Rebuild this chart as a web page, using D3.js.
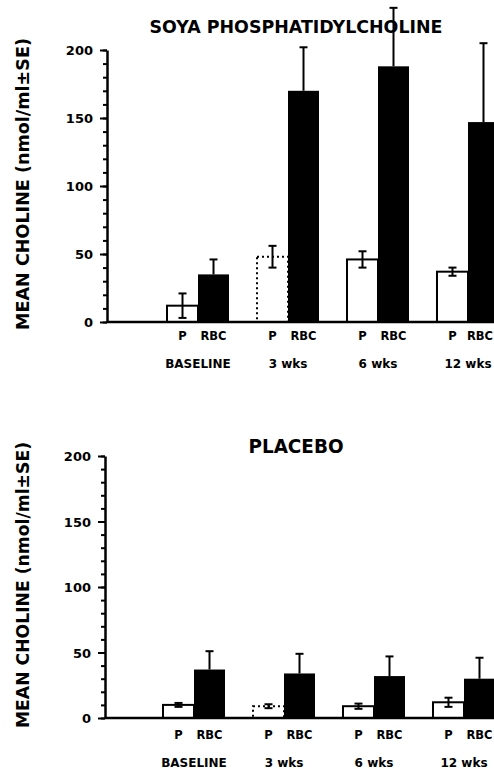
<!DOCTYPE html>
<html>
<head>
<meta charset="utf-8">
<script src="https://cdn.jsdelivr.net/npm/d3@7"></script>
<style>
body { margin: 0; background: #fff; }
text { font-family: "DejaVu Sans", sans-serif; font-weight: bold; fill: #000; }
</style>
</head>
<body>
<svg id="svg"></svg>
<script>
var width = 494, height = 769;

var groups = ["BASELINE", "3 wks", "6 wks", "12 wks"];
var kinds = ["P", "RBC"];
var yTicks = [0, 50, 100, 150, 200];
var dottedGroup = "3 wks";

var soyaP = [12, 48, 46, 37];
var soyaPErr = [9, 8, 6, 3];
var soyaRBC = [35, 170, 188, 147];
var soyaRBCErr = [11, 32, 43, 58];

var placeboP = [10, 9, 9, 12];
var placeboPErr = [1.5, 1.5, 2, 3.5];
var placeboRBC = [37, 34, 32, 30];
var placeboRBCErr = [14, 15, 15, 16];

var svg = d3.select("#svg")
	.attr("width", width)
	.attr("height", height);

plot({ axisX: 107, y0: 322, yTop: 50, bandStart: 167, titleY: 33, titleSize: 18, titleLen: 293,
		catY: 340, groupY: 368, labelMid: 184, labelLen: 292 },
	"SOYA PHOSPHATIDYLCHOLINE", soyaP, soyaPErr, soyaRBC, soyaRBCErr);
plot({ axisX: 105, y0: 718, yTop: 456, bandStart: 163, titleY: 453, titleSize: 19, titleLen: 95,
		catY: 739, groupY: 767, labelMid: 585, labelLen: 286 },
	"PLACEBO", placeboP, placeboPErr, placeboRBC, placeboRBCErr);

function plot(c, title, pVals, pErr, rVals, rErr)
{
	var g = svg.append("g");
	var y = d3.scaleLinear()
		.domain([0, 200])
		.range([c.y0, c.yTop]);
	var x = d3.scaleBand()
		.domain(groups)
		.range([c.bandStart, c.bandStart + 332])
		.paddingInner(0.311)
		.paddingOuter(0);
	var xi = d3.scaleBand()
		.domain(kinds)
		.range([0, x.bandwidth()]);
	var bw = xi.bandwidth();

	// P bars (open)
	g.selectAll(".pbar")
		.data(groups)
		.enter()
		.append("rect")
		.attr("x", function(d) { return x(d) + xi("P"); })
		.attr("y", function(d, i) { return y(pVals[i]); })
		.attr("width", bw)
		.attr("height", function(d, i) { return c.y0 - y(pVals[i]); })
		.style("fill", "#fff")
		.style("stroke", "#000")
		.style("stroke-width", 2)
		.style("stroke-dasharray", function(d) { return d == dottedGroup ? "2,3" : null; });

	// P error bars (both ways)
	var pe = g.selectAll(".perr")
		.data(groups)
		.enter()
		.append("g");
	pe.append("line")
		.attr("x1", function(d) { return x(d) + xi("P") + bw / 2; })
		.attr("x2", function(d) { return x(d) + xi("P") + bw / 2; })
		.attr("y1", function(d, i) { return y(pVals[i] - pErr[i]); })
		.attr("y2", function(d, i) { return y(pVals[i] + pErr[i]); });
	[1, -1].forEach(function(s) {
		pe.append("line")
			.attr("x1", function(d) { return x(d) + xi("P") + bw / 2 - 4; })
			.attr("x2", function(d) { return x(d) + xi("P") + bw / 2 + 4; })
			.attr("y1", function(d, i) { return y(pVals[i] + s * pErr[i]); })
			.attr("y2", function(d, i) { return y(pVals[i] + s * pErr[i]); });
	});
	pe.selectAll("line").style("stroke", "#000").style("stroke-width", 2);

	// RBC bars (solid)
	g.selectAll(".rbar")
		.data(groups)
		.enter()
		.append("rect")
		.attr("x", function(d) { return x(d) + xi("RBC"); })
		.attr("y", function(d, i) { return y(rVals[i]); })
		.attr("width", bw)
		.attr("height", function(d, i) { return c.y0 - y(rVals[i]); })
		.style("fill", "#000");

	// RBC error bars (upward)
	var re = g.selectAll(".rerr")
		.data(groups)
		.enter()
		.append("g");
	re.append("line")
		.attr("x1", function(d) { return x(d) + xi("RBC") + bw / 2; })
		.attr("x2", function(d) { return x(d) + xi("RBC") + bw / 2; })
		.attr("y1", function(d, i) { return y(rVals[i]); })
		.attr("y2", function(d, i) { return y(rVals[i] + rErr[i]); });
	re.append("line")
		.attr("x1", function(d) { return x(d) + xi("RBC") + bw / 2 - 4; })
		.attr("x2", function(d) { return x(d) + xi("RBC") + bw / 2 + 4; })
		.attr("y1", function(d, i) { return y(rVals[i] + rErr[i]); })
		.attr("y2", function(d, i) { return y(rVals[i] + rErr[i]); });
	re.selectAll("line").style("stroke", "#000").style("stroke-width", 2);

	// baseline
	g.append("line")
		.attr("x1", c.axisX)
		.attr("x2", width)
		.attr("y1", y(0))
		.attr("y2", y(0))
		.style("stroke", "#000")
		.style("stroke-width", 2.5);

	// y axis: minor then major ticks
	var minor = g.append("g")
		.attr("transform", "translate(" + c.axisX + ",0)")
		.call(d3.axisLeft(y).tickValues(d3.range(0, 201, 10)).tickSize(4).tickFormat(""));
	minor.select(".domain").remove();
	var major = g.append("g")
		.attr("transform", "translate(" + c.axisX + ",0)")
		.call(d3.axisLeft(y).tickValues(yTicks).tickSize(7).tickSizeOuter(0).tickPadding(7));
	g.selectAll(".tick line").style("stroke", "#000").style("stroke-width", 2);
	major.select(".domain").style("stroke", "#000").style("stroke-width", 2.5);
	major.selectAll("text")
		.style("font-family", "'DejaVu Sans'")
		.style("font-weight", "bold")
		.style("font-size", "13px")
		.attr("dy", "0.36em");

	// category labels, kept inside the right edge
	function placeLabel(cx, yy, size, txt) {
		var t = g.append("text")
			.attr("y", yy)
			.style("text-anchor", "middle")
			.style("font-size", size)
			.text(txt);
		var w = t.node().getComputedTextLength();
		t.attr("x", Math.min(cx, width - 1 - w / 2));
	}
	groups.forEach(function(gr) {
		kinds.forEach(function(k) {
			placeLabel(x(gr) + xi(k) + bw / 2, c.catY, "11.5px", k);
		});
		placeLabel(x(gr) + x.bandwidth() / 2, c.groupY, "12px", gr);
	});

	g.append("text")
		.attr("x", 296)
		.attr("y", c.titleY)
		.attr("textLength", c.titleLen)
		.attr("lengthAdjust", "spacingAndGlyphs")
		.style("text-anchor", "middle")
		.style("font-size", c.titleSize + "px")
		.text(title);

	g.append("text")
		.attr("transform", "translate(29," + c.labelMid + ") rotate(-90)")
		.attr("textLength", c.labelLen)
		.attr("lengthAdjust", "spacingAndGlyphs")
		.style("text-anchor", "middle")
		.style("font-size", "17px")
		.text("MEAN CHOLINE (nmol/ml\u00b1SE)");
}
</script>
</body>
</html>
